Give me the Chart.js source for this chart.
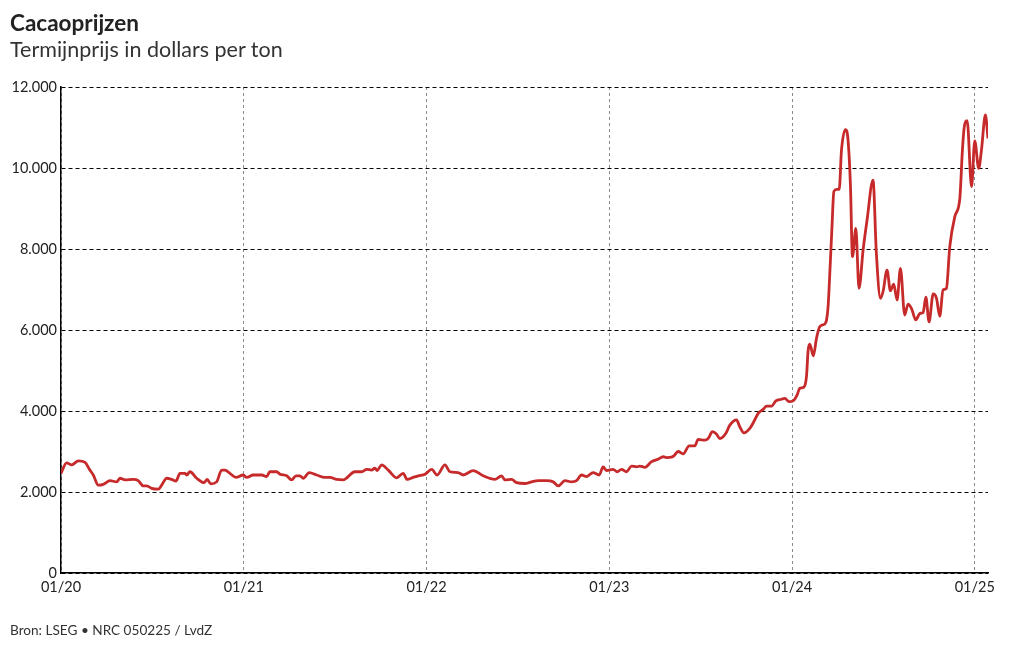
<!DOCTYPE html>
<html>
<head>
<meta charset="utf-8">
<script src="https://cdn.jsdelivr.net/npm/chart.js@4/dist/chart.umd.min.js"></script>
<style>
  html, body { margin: 0; padding: 0; background: #fff; }
  body { width: 1020px; height: 650px; position: relative; overflow: hidden; font-family: Lato, "Noto Sans", sans-serif; }
  #title { position: absolute; left: 10px; top: 9px; font-size: 22.5px; font-weight: bold; color: #222; }
  #subtitle { position: absolute; left: 10px; top: 36px; font-size: 21.5px; color: #333; }
  #source { position: absolute; left: 10px; top: 622px; font-size: 13.6px; color: #333; }
  #wrap { position: absolute; left: 0; top: 0; width: 1020px; height: 650px; }
</style>
</head>
<body>
<div id="wrap"><canvas id="c" width="1020" height="650"></canvas></div>
<div id="title">Cacaoprijzen</div>
<div id="subtitle">Termijnprijs in dollars per ton</div>
<div id="source">Bron: LSEG • NRC 050225 / LvdZ</div>
<script>
// x = months since January 2020; y = futures price in dollars per ton
const months = [
  0, 0.37, 0.70, 1.14, 1.58, 1.90, 2.12, 2.45, 2.78, 3.22, 3.66, 3.87, 4.20, 4.75, 5.07, 5.40, 5.63, 5.95, 6.39, 6.61,
  6.94, 7.27, 7.55, 7.81, 8.14, 8.25, 8.47, 8.91, 9.39, 9.60, 9.83, 10.22, 10.55, 10.77, 11.09, 11.49, 11.97, 12.19, 12.62, 13.18,
  13.50, 13.72, 14.16, 14.38, 14.82, 15.14, 15.43, 15.69, 15.91, 16.30, 16.79, 17.33, 17.66, 18.10, 18.53, 19.30, 19.74, 20.07, 20.40, 20.61,
  20.76, 21.05, 21.49, 22.04, 22.47, 22.73, 23.13, 23.46, 23.90, 24.34, 24.70, 25.21, 25.54, 26.08, 26.41, 27.07, 27.72, 28.49, 28.93, 29.15,
  29.59, 29.92, 30.46, 30.90, 31.33, 31.88, 32.32, 32.65, 33.09, 33.53, 33.85, 34.18, 34.51, 34.94, 35.34, 35.60, 35.82, 36.26, 36.52, 36.81,
  37.14, 37.46, 37.79, 38.01, 38.34, 38.78, 39.21, 39.54, 39.76, 40.09, 40.24, 40.52, 40.85, 41.25, 41.62, 41.84, 42.28, 42.49, 42.78, 43.04,
  43.26, 43.66, 43.92, 44.36, 44.57, 44.84, 45.23, 45.50, 45.78, 46.10, 46.33, 46.66, 46.94, 47.31, 47.53, 47.81, 48.07, 48.34, 48.51, 48.78,
  48.95, 49.06, 49.17, 49.40, 49.61, 49.82, 50.15, 50.27, 50.37, 50.52, 50.62, 50.75, 50.93, 51.10, 51.25, 51.51, 51.68, 51.84, 51.97, 52.19,
  52.40, 52.67, 52.93, 53.32, 53.54, 53.81, 53.98, 54.24, 54.46, 54.68, 54.90, 55.12, 55.40, 55.62, 55.85, 56.13, 56.40, 56.61, 56.79, 57.00,
  57.27, 57.49, 57.70, 57.92, 58.14, 58.36, 58.69, 59.02, 59.19, 59.30, 59.50, 59.79, 60.00, 60.26, 60.44, 60.70, 60.87
];
const prices = [
  2460, 2720, 2670, 2770, 2730, 2540, 2420, 2170, 2190, 2280, 2250, 2340, 2300, 2310, 2280, 2150, 2150, 2090, 2070, 2170,
  2340, 2310, 2270, 2460, 2460, 2420, 2500, 2340, 2230, 2310, 2200, 2250, 2540, 2540, 2460, 2360, 2420, 2360, 2420, 2420,
  2380, 2500, 2500, 2440, 2400, 2300, 2400, 2400, 2340, 2480, 2420, 2360, 2360, 2310, 2300, 2500, 2500, 2560, 2540, 2590,
  2530, 2670, 2540, 2350, 2460, 2310, 2360, 2400, 2440, 2560, 2420, 2670, 2500, 2480, 2420, 2530, 2400, 2310, 2400, 2300,
  2310, 2230, 2210, 2250, 2280, 2280, 2250, 2150, 2280, 2250, 2280, 2420, 2380, 2480, 2420, 2620, 2530, 2560, 2500, 2560,
  2500, 2640, 2620, 2640, 2610, 2750, 2810, 2870, 2850, 2860, 2890, 3000, 2940, 3140, 3140, 3300, 3280, 3320, 3490, 3430,
  3320, 3450, 3650, 3780, 3610, 3460, 3570, 3740, 3940, 4040, 4120, 4120, 4250, 4290, 4310, 4230, 4250, 4400, 4560, 4590,
  4850, 5500, 5650, 5360, 5800, 6080, 6150, 6250, 6580, 7700, 8500, 9420, 9470, 9470, 10440, 10950, 10690, 9540, 7810, 8510,
  7030, 7980, 8720, 9700, 7890, 6780, 6950, 7480, 6970, 7130, 6740, 7520, 6370, 6640, 6530, 6250, 6410, 6430, 6810, 6200,
  6890, 6780, 6340, 6990, 7030, 8060, 8800, 9250, 10440, 10980, 11170, 9540, 10670, 9990, 10440, 11310, 10730
];
const yearTicks = [0, 12, 24, 36, 48, 60];
const yearLabels = ['01/20', '01/21', '01/22', '01/23', '01/24', '01/25'];
const yTicks = [0, 2000, 4000, 6000, 8000, 10000, 12000];

function fmt(v) { return String(v).replace(/\B(?=(\d{3})+(?!\d))/g, '.'); }

const points = months.map((m, i) => ({ x: m, y: prices[i] }));

new Chart(document.getElementById('c'), {
  type: 'line',
  data: {
    datasets: [{
      data: points,
      borderColor: '#c62a2a',
      borderWidth: 2.8,
      pointRadius: 0,
      cubicInterpolationMode: 'monotone',
      fill: false
    }]
  },
  options: {
    responsive: false,
    animation: false,
    events: [],
    layout: { padding: { left: 0, top: 87, right: 32, bottom: 47 } },
    plugins: { legend: { display: false }, tooltip: { enabled: false } },
    scales: {
      x: {
        type: 'linear',
        min: 0,
        max: 60.87,
        afterBuildTicks: s => { s.ticks = yearTicks.map(v => ({ value: v })); },
        afterFit: s => { s.height = 30; },
        ticks: {
          callback: (v) => yearLabels[yearTicks.indexOf(v)] ?? '',
          font: { family: 'Lato', size: 14.5 },
          color: '#222',
          padding: 6,
          maxRotation: 0,
          autoSkip: false
        },
        grid: {
          color: '#8a8a8a',
          lineWidth: 1,
          drawTicks: false,
          tickLength: 0
        },
        border: { display: true, color: '#000', width: 1.5, dash: [3, 3] }
      },
      y: {
        min: 0,
        max: 12000,
        afterBuildTicks: s => { s.ticks = yTicks.map(v => ({ value: v })); },
        afterFit: s => { s.width = 61; },
        ticks: {
          callback: v => fmt(v),
          font: { family: 'Lato', size: 14.5 },
          color: '#222',
          padding: 4
        },
        grid: {
          color: '#000',
          lineWidth: 1,
          drawTicks: false,
          tickLength: 0
        },
        border: { display: true, color: '#000', width: 1.5, dash: [4, 3] }
      }
    }
  }
});
</script>
</body>
</html>
